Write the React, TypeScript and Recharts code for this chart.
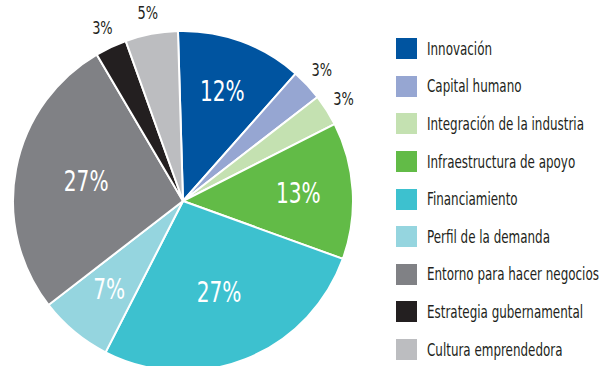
import React from 'react';
import { PieChart, Pie, Cell, Legend } from 'recharts';

const categories = [
  'Innovación',
  'Capital humano',
  'Integración de la industria',
  'Infraestructura de apoyo',
  'Financiamiento',
  'Perfil de la demanda',
  'Entorno para hacer negocios',
  'Estrategia gubernamental',
  'Cultura emprendedora',
];
const shares = [12, 3, 3, 13, 27, 7, 27, 3, 5];
const colors = [
  '#0054a0',
  '#96a6d2',
  '#c4e1b1',
  '#62bb47',
  '#3dc1cf',
  '#95d5df',
  '#808185',
  '#231f20',
  '#bcbdc0',
];

const FONT = '"DejaVu Sans Condensed", "DejaVu Sans", sans-serif';
const RADIAN = Math.PI / 180;

const data = categories.map((name, i) => ({ name, value: shares[i] }));

const renderLabel = (props: any) => {
  const { cx, cy, midAngle, outerRadius, value } = props;
  const outside = value < 7;
  const r = outside ? outerRadius + 20 : value >= 20 ? outerRadius * 0.58 : outerRadius * 0.68;
  const x = cx + r * Math.cos(-midAngle * RADIAN);
  const y = cy + r * Math.sin(-midAngle * RADIAN);
  return (
    <text
      x={0}
      y={0}
      transform={`translate(${x},${y - 1}) scale(0.8,1)`}
      textAnchor="middle"
      dominantBaseline="central"
      fill={outside ? '#231f20' : '#ffffff'}
      fontSize={outside ? 18 : 28}
      fontFamily={FONT}
    >
      {`${value}%`}
    </text>
  );
};

const renderLegend = () => (
  <div style={{ fontFamily: FONT }}>
    {categories.map((name, i) => (
      <div key={`leg-${i}`} style={{ display: 'flex', alignItems: 'center', height: 37.6 }}>
        <span
          style={{
            display: 'inline-block',
            flex: '0 0 auto',
            width: 21,
            height: 21,
            background: colors[i],
            marginRight: 10,
          }}
        />
        <span
          style={{
            display: 'inline-block',
            fontSize: 17,
            color: '#231f20',
            whiteSpace: 'nowrap',
            transform: 'scaleX(0.78)',
            transformOrigin: 'left center',
          }}
        >
          {name}
        </span>
      </div>
    ))}
  </div>
);

export default function App() {
  return (
    <div style={{ position: 'absolute', left: 0, top: 0, width: 600, height: 366, background: '#fff' }}>
      <PieChart width={600} height={366} margin={{ top: 0, right: 0, bottom: 0, left: 0 }}>
        <Pie
          data={data}
          dataKey="value"
          nameKey="name"
          cx={183}
          cy={201}
          outerRadius={170}
          startAngle={91.7}
          endAngle={-268.3}
          stroke="#ffffff"
          strokeWidth={2}
          label={renderLabel}
          labelLine={false}
          isAnimationActive={false}
        >
          {data.map((entry, i) => (
            <Cell key={`cell-${i}`} fill={colors[i]} />
          ))}
        </Pie>
        <Legend
          layout="vertical"
          verticalAlign="top"
          align="right"
          content={renderLegend}
          wrapperStyle={{ left: 396, top: 30, width: 204, overflow: 'hidden' }}
        />
      </PieChart>
    </div>
  );
}
